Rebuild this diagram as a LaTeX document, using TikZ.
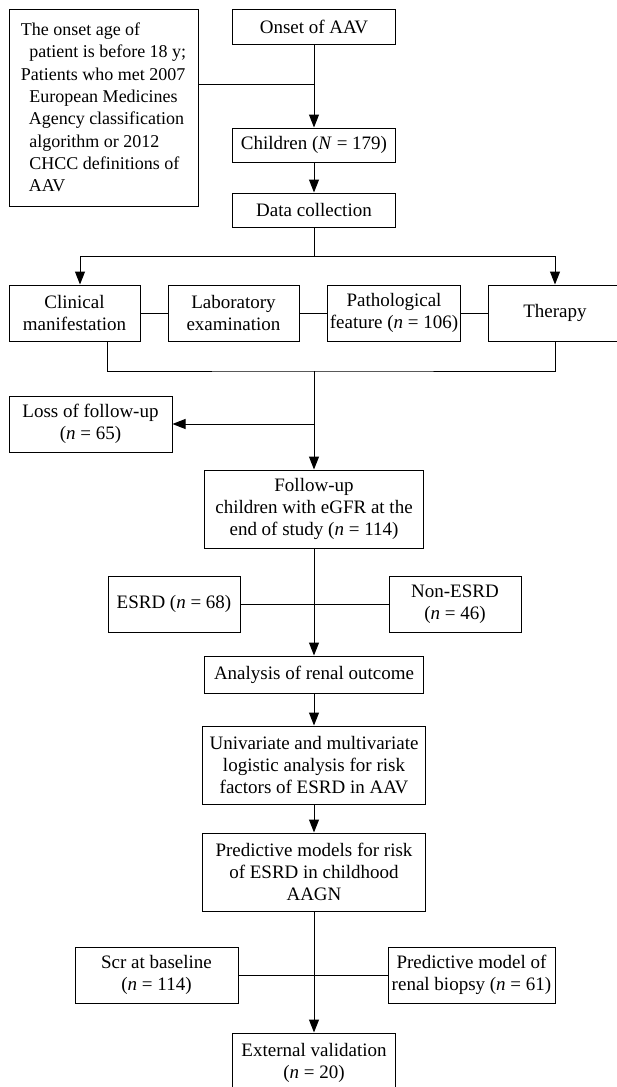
\documentclass[tikz,border=0pt]{standalone}
\usepackage{fontspec}
\setmainfont{Liberation Serif}
\usetikzlibrary{arrows.meta}

\begin{document}
\begin{tikzpicture}[
  x=1pt, y=-1pt,
  font=\fontsize{19}{22.3}\selectfont,
  box/.style={draw, line width=1pt, align=center, inner sep=2pt},
  arr/.style={-{Triangle[length=13pt,width=10pt]}},
  line width=1pt
]
\useasboundingbox (0,0) rectangle (616,1087);
\node[box, align=left, font=\fontsize{18}{22.3}\selectfont, minimum width=189pt, minimum height=197pt] (crit) at (103.5,107.5)
  {The onset age of\\ \hspace*{8.5pt}patient is before 18 y;\\ Patients who met 2007\\
   \hspace*{8.5pt}European Medicines\\ \hspace*{8pt}Agency classification\\
   \hspace*{8.5pt}algorithm or 2012\\ \hspace*{8.5pt}CHCC definitions of\\ \hspace*{8pt}AAV};
\node[box, minimum width=163pt, minimum height=35pt] (onset)    at (314,26.5) {Onset of AAV};
\node[box, minimum width=163pt, minimum height=34pt] (children) at (314,145)  {Children (\textit{N} = 179)};
\node[box, minimum width=163pt, minimum height=34pt] (data)     at (314,210)  {Data collection};

\node[box, minimum width=131pt, minimum height=56pt] (clin) at (74.5,313) {Clinical\\ manifestation};
\node[box, minimum width=131pt, minimum height=56pt] (lab)  at (233.5,313) {Laboratory\\ examination};
\node[box, minimum width=132pt, minimum height=56pt] (path) at (394,313) {Pathological\\ feature (\textit{n} = 106)};
\node[box, minimum width=134pt, minimum height=56pt] (ther) at (555,313) {Therapy};

\node[box, minimum width=163pt, minimum height=56pt] (loss)     at (90.5,424) {Loss of follow-up\\ (\textit{n} = 65)};
\node[box, minimum width=219pt, minimum height=78pt] (follow)   at (314,509)  {Follow-up\\ children with eGFR at the\\ end of study (\textit{n} = 114)};
\node[box, minimum width=132pt, minimum height=56pt] (esrd)     at (174,604)  {ESRD (\textit{n} = 68)};
\node[box, minimum width=132pt, minimum height=56pt] (nonesrd)  at (455,604)  {Non-ESRD\\ (\textit{n} = 46)};
\node[box, minimum width=219pt, minimum height=37pt] (analysis) at (314,674.5) {Analysis of renal outcome};
\node[box, minimum width=223pt, minimum height=78pt] (univ)     at (314,765)  {Univariate and multivariate\\ logistic analysis for risk\\ factors of ESRD in AAV};
\node[box, minimum width=223pt, minimum height=78pt] (pred)     at (314,872)  {Predictive models for risk\\ of ESRD in childhood\\ AAGN};
\node[box, minimum width=163pt, minimum height=56pt] (scr)      at (156.5,975) {Scr at baseline\\ (\textit{n} = 114)};
\node[box, minimum width=167pt, minimum height=56pt] (biopsy)   at (471.5,975) {Predictive model of\\ renal biopsy (\textit{n} = 61)};
\node[box, minimum width=163pt, minimum height=60pt] (external) at (314,1063) {External validation\\ (\textit{n} = 20)};

\coordinate (j1) at (314,84);
\coordinate (b0) at (314,256);
\coordinate (c0) at (314,371);
\coordinate (c1) at (314,424);

\draw (crit.east |- j1) -- (j1);
\draw[arr] (onset) -- (children);
\draw[arr] (children) -- (data);
\draw (data.south) -- (b0);
\draw[arr] (b0) -| ([xshift=5.5pt]clin.north);
\draw[arr] (b0) -| (ther.north);
\draw (clin.east) -- (lab.west);
\draw (lab.east) -- (path.west);
\draw (path.east) -- (ther.west);
\draw ([xshift=32.5pt]clin.south) |- (c0) -| (ther.south);
\draw[arr] (c0) -- (follow.north);
\draw[arr] (c1) -- (loss.east);
\draw[arr] (follow.south) -- (analysis.north);
\draw (esrd.east) -- (nonesrd.west);
\draw[arr] (analysis) -- (univ);
\draw[arr] (univ) -- (pred);
\draw[arr] (pred.south) -- (external.north);
\draw (scr.east) -- (biopsy.west);
\end{tikzpicture}
\end{document}
